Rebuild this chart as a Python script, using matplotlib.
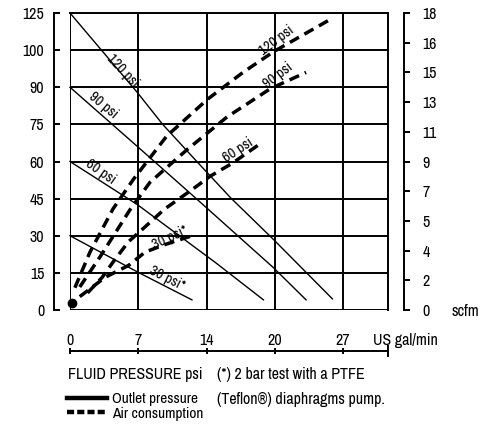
import matplotlib
matplotlib.use("Agg")
import matplotlib.pyplot as plt
import numpy as np
from matplotlib import font_manager
from matplotlib.lines import Line2D
from matplotlib.ticker import FixedLocator

# the original uses a condensed sans; pick whatever narrow face is installed
fonts = font_manager.fontManager.ttflist
narrow = [f.name for f in fonts if "Narrow" in f.name or "Condensed" in f.name]
cond_dejavu = [f for f in fonts if f.name == "DejaVu Sans" and f.stretch == "condensed"]
FS = 11.5
if narrow:
    plt.rcParams["font.family"] = [narrow[0], "DejaVu Sans"]
elif cond_dejavu:
    plt.rcParams["font.family"] = ["DejaVu Sans"]
    plt.rcParams["font.stretch"] = "condensed"
    FS = 10.5
else:
    plt.rcParams["font.family"] = ["Liberation Sans", "DejaVu Sans"]
    FS = 9.5

# axis tick values (grid lines are evenly spaced, labels are not)
gpm_ticks = [0, 7, 14, 20, 27]
psi_ticks = [0, 15, 30, 45, 60, 75, 90, 100, 125]
scfm_ticks = [0, 2, 4, 5, 7, 9, 11, 13, 15, 16, 18]

# outlet pressure (solid), flow US gal/min vs fluid pressure psi
out_120_gpm = [0, 6.9, 9.5, 13.0, 16.1, 19.9, 25.9]
out_120_psi = [125, 87.9, 75, 60, 45.4, 28.4, 4.5]
out_90_gpm = [0, 6.9, 13.4, 19.9, 23.2]
out_90_psi = [90, 66.1, 43.4, 17.0, 4.1]
out_60_gpm = [0, 6.9, 14.8, 19.0]
out_60_psi = [60, 42.6, 19.1, 4.1]
out_30_gpm = [0, 6.9, 12.5]
out_30_psi = [30, 15.4, 4.1]

# air consumption (dashed), flow US gal/min vs scfm
air_120_gpm = [0.5, 2.05, 4.4, 6.5, 9.9, 14.1, 17.2, 19.9, 25.5]
air_120_scfm = [1.5, 3.9, 5.8, 7.8, 10.7, 13.2, 15.0, 15.7, 17.5]
air_90_gpm = [1.0, 3.1, 6.2, 8.2, 12.0, 15.8, 19.6, 23.2]
air_90_scfm = [1.55, 3.6, 5.8, 7.6, 9.8, 12.0, 13.9, 15.0]
air_60_gpm = [1.8, 3.3, 4.6, 6.0, 7.7, 9.7, 12.5, 14.3, 16.3, 18.9]
air_60_scfm = [1.15, 2.2, 3.4, 4.3, 4.8, 5.8, 7.1, 8.0, 8.9, 10.3]
air_30_gpm = [1.0, 3.6, 6.0, 7.7, 9.7, 12.5]
air_30_scfm = [0.9, 2.2, 3.0, 3.9, 4.2, 4.5]
origin_gpm, origin_scfm = 0.2, 0.45


def piecewise(vals):
    vals = np.asarray(vals, float)
    pos = np.arange(len(vals), dtype=float)
    lo_step = vals[1] - vals[0]
    hi_step = vals[-1] - vals[-2]

    def fwd(v):
        v = np.asarray(v, float)
        out = np.interp(v, vals, pos)
        out = np.where(v > vals[-1], pos[-1] + (v - vals[-1]) / hi_step, out)
        return np.where(v < vals[0], (v - vals[0]) / lo_step, out)

    def inv(p):
        p = np.asarray(p, float)
        out = np.interp(p, pos, vals)
        out = np.where(p > pos[-1], vals[-1] + (p - pos[-1]) * hi_step, out)
        return np.where(p < 0, vals[0] + p * lo_step, out)

    return fwd, inv


fig = plt.figure(figsize=(4.95, 4.24), dpi=100)
ax = fig.add_axes([70 / 495, 114 / 424, 318 / 495, 297 / 424])
ax.set_xscale("function", functions=piecewise(gpm_ticks))
ax.set_yscale("function", functions=piecewise(psi_ticks))
ax.set_xlim(0, 31.6)
ax.set_ylim(0, 125)

ax2 = ax.twinx()
ax2.set_yscale("function", functions=piecewise(scfm_ticks))
ax2.set_ylim(0, 18)

lw_grid = 1.4
ax.xaxis.set_major_locator(FixedLocator(gpm_ticks))
ax.xaxis.set_minor_locator(FixedLocator([31.6]))
ax.set_xticklabels([str(t) for t in gpm_ticks])
ax.yaxis.set_major_locator(FixedLocator(psi_ticks))
ax.set_yticklabels([str(t) for t in psi_ticks])
ax.yaxis.set_minor_locator(FixedLocator([]))
ax2.yaxis.set_major_locator(FixedLocator(scfm_ticks))
ax2.yaxis.set_minor_locator(FixedLocator([]))
ax2.set_yticklabels([str(t) for t in scfm_ticks])
ax.grid(True, which="major", color="black", lw=lw_grid)

for s in ax.spines.values():
    s.set_linewidth(lw_grid)
ax.spines["left"].set_position(("outward", 11.5))
ax.spines["bottom"].set_position(("outward", 29.5))
for side in ["left", "top", "bottom"]:
    ax2.spines[side].set_visible(False)
ax2.spines["right"].set_position(("outward", 11.5))
ax2.spines["right"].set_linewidth(lw_grid)

ax.tick_params(axis="y", direction="in", length=4.5, width=lw_grid, pad=7, labelsize=FS)
ax.tick_params(axis="x", which="major", direction="inout", length=4, width=lw_grid,
               pad=-15, labelsize=FS)
ax.tick_params(axis="x", which="minor", direction="inout", length=8, width=lw_grid)
ax2.tick_params(axis="y", direction="out", length=4.5, width=lw_grid, pad=9, labelsize=FS)

# outlet pressure curves
for gx, py in [(out_120_gpm, out_120_psi), (out_90_gpm, out_90_psi),
               (out_60_gpm, out_60_psi), (out_30_gpm, out_30_psi)]:
    ax.plot(gx, py, color="black", lw=1.0, clip_on=False)

# air consumption curves
for gx, sy in [(air_120_gpm, air_120_scfm), (air_90_gpm, air_90_scfm),
               (air_60_gpm, air_60_scfm), (air_30_gpm, air_30_scfm)]:
    ax2.plot(gx, sy, color="black", lw=2.5, dashes=(3.0, 1.8))
ax2.plot([origin_gpm], [origin_scfm], "o", color="black", ms=6, clip_on=False)

labels = [
    ("120 psi", 0.167, 0.805, -47), ("90 psi", 0.104, 0.690, -40),
    ("60 psi", 0.097, 0.465, -35), ("30 psi*", 0.305, 0.108, -27),
    ("30 psi*", 0.314, 0.242, 25), ("60 psi", 0.528, 0.539, 33),
    ("90 psi", 0.654, 0.791, 37), ("120 psi", 0.651, 0.909, 37),
]
for txt, fx, fy, rot in labels:
    ax2.text(fx, fy, txt, transform=ax2.transAxes, rotation=rot, rotation_mode="anchor",
             ha="center", va="center", fontsize=FS - 1)

fig.text(373 / 495, 1 - 340 / 424, "US gal/min", fontsize=FS, va="center")
fig.text(452 / 495, 1 - 311 / 424, "scfm", fontsize=FS, va="center")
fig.text(68 / 495, 1 - 375 / 424, "FLUID PRESSURE psi", fontsize=FS, va="center")
fig.text(217 / 495, 1 - 375 / 424, "(*) 2 bar test with a PTFE", fontsize=FS, va="center")
fig.text(217 / 495, 1 - 399 / 424, "(Teflon\u00ae) diaphragms pump.", fontsize=FS, va="center")

handles = [Line2D([], [], color="black", lw=3.2),
           Line2D([], [], color="black", lw=3.2, dashes=(1.6, 0.7))]
fig.legend(handles, ["Outlet pressure", "Air consumption"], loc="upper left",
           bbox_to_anchor=(67 / 495, 1 - 392 / 424), frameon=False, fontsize=FS - 0.5,
           borderpad=0, borderaxespad=0, handlelength=2.6, handletextpad=0.35,
           labelspacing=0.05)

fig.savefig("out.png", dpi=100)
